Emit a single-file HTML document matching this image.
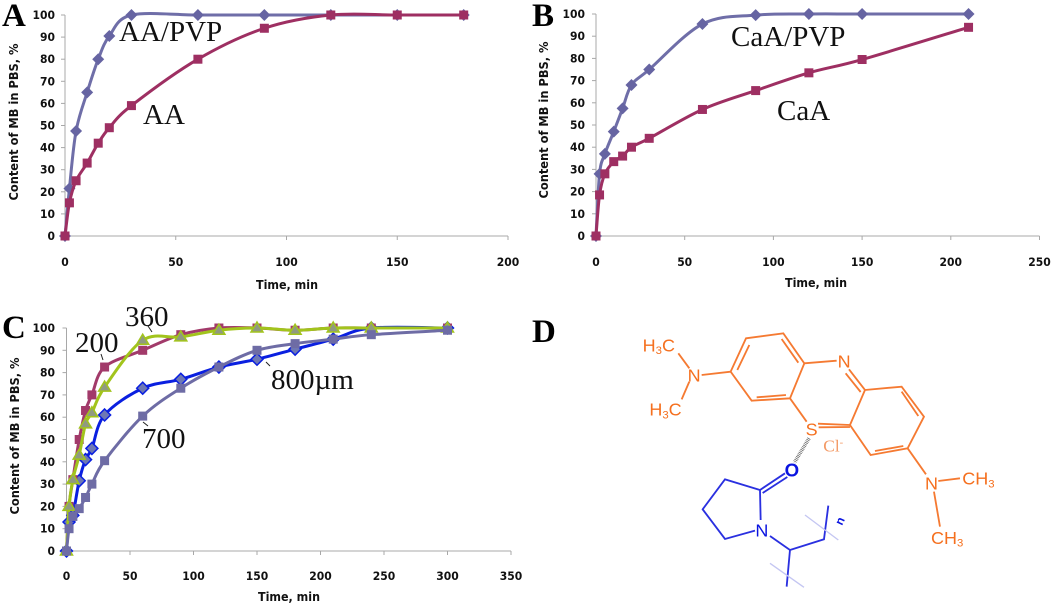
<!DOCTYPE html>
<html lang="en">
<head>
<meta charset="utf-8">
<title>MB release charts</title>
<style>
html,body{margin:0;padding:0;background:#fff;width:1052px;height:607px;overflow:hidden}
svg{display:block}
.tick{font:bold 11.5px "DejaVu Sans",sans-serif;fill:#111}
.title{font:bold 12px "DejaVu Sans",sans-serif;fill:#111}
.note{font:29px "Liberation Serif",serif;fill:#111}
.panel{font:bold 33px "Liberation Serif",serif;fill:#000}
.chem{font-family:"Liberation Sans",sans-serif;font-size:54px}
</style>
</head>
<body>
<svg id="fig" width="1052" height="607" viewBox="0 0 1052 607" xmlns="http://www.w3.org/2000/svg">
  <text class="panel" x="2" y="26">A</text>
  <text class="panel" x="532" y="26">B</text>
  <text class="panel" x="2" y="338">C</text>
  <text class="panel" x="532" y="342">D</text>

  <text class="note" x="119" y="41">AA/PVP</text>
  <text class="note" x="143" y="124">AA</text>
  <text class="note" x="731" y="46">CaA/PVP</text>
  <text class="note" x="777" y="120">CaA</text>
  <text class="note" x="75" y="352">200</text>
  <text class="note" x="125" y="326">360</text>
  <text class="note" x="142" y="448">700</text>
  <text class="note" x="271" y="389">800µm</text>
  <g stroke="#222" stroke-width="1" fill="none">
    <path d="M101 354L103 360M148 326L152 332M143 422L148 426M266 362L270 366"/>
  </g>

  <g id="chem" transform="translate(610 310) scale(.3333)">
    <g fill="none" stroke="#F57A32" stroke-width="5.5">
      <path d="M408 85L520 70L583 160L540 265L425 272L362 185Z"/>
      <path d="M418 105L382 180M515 87L565 158M528 255L440 262"/>
      <path d="M583 160L680 152M717 178L765 240M707 190L752 246"/>
      <path d="M765 240L875 230L942 320L893 415L782 435L720 345L765 240"/>
      <path d="M875 245L925 318M880 408L795 423"/>
      <path d="M540 265L590 335M624 341L720 345M626 352L720 351"/>
      <path d="M893 415L948 493M985 513L1050 505M972 545L990 650"/>
      <path d="M362 185L275 195M238 175L205 130M238 215L215 268"/>
    </g>
    <g fill="#F5701F" class="chem">
      <text x="683" y="172">N</text>
      <text x="587" y="377">S</text>
      <text x="233" y="215">N</text>
      <text x="945" y="538">N</text>
      <text x="98" y="124">H<tspan font-size="34" dy="8">3</tspan><tspan dy="-8">C</tspan></text>
      <text x="118" y="317">H<tspan font-size="34" dy="8">3</tspan><tspan dy="-8">C</tspan></text>
      <text x="1057" y="524">CH<tspan font-size="34" dy="8">3</tspan></text>
      <text x="963" y="702">CH<tspan font-size="34" dy="8">3</tspan></text>
      <text x="640" y="424" style="font:52px 'Liberation Serif',serif" fill="#F39A66">Cl<tspan font-size="32" dy="-18">-</tspan></text>
    </g>
    <line x1="597" y1="385" x2="553" y2="458" stroke="#555" stroke-width="11" stroke-dasharray="2 3"/>
    <g fill="none" stroke="#2A30E0" stroke-width="5.5">
      <path d="M450 540L525 490M458 549L532 501"/>
      <path d="M450 540L345 508L278 598L345 687L435 662M450 540L452 630"/>
      <path d="M480 678L540 720L642 688L655 587M540 720L530 830"/>
    </g>
    <path d="M585 615L685 690M480 760L582 832" fill="none" stroke="#C4C6F2" stroke-width="4"/>
    <g fill="#0A14E0" class="chem">
      <text x="524" y="499" font-weight="bold" font-size="56">O</text>
      <text x="436" y="680">N</text>
      <text transform="translate(696 648) rotate(-65)" font-weight="bold" font-size="36">n</text>
    </g>
  </g>
</svg>
<script>
var yTicks = [0,10,20,30,40,50,60,70,80,90,100];
var xTicksA = [0,50,100,150,200];
var xTicksB = [0,50,100,150,200,250];
var xTicksC = [0,50,100,150,200,250,300,350];

var timeA = [0,2,5,10,15,20,30,60,90,120,150,180];
var aaPvp = [0,21.5,47.5,65,80,90.5,100,100,100,100,100,100];
var aa = [0,15,25,33,42,49,59,80,94,100,100,100];

var timeB = [0,2,5,10,15,20,30,60,90,120,150,210];
var caaPvp = [0,28,37,47,57.5,68,75,95.5,99.5,100,100,100];
var caa = [0,18.5,28,33.5,36,40,44,57,65.5,73.5,79.5,94];

var timeC = [0,2,5,10,15,20,30,60,90,120,150,180,210,240,300];
var size800 = [0,13,16,31.5,41,46,61,73,77,82.5,86,90.5,95,100,100];
var size200 = [0,20,32,50,63,70,82.5,90,97,100,100,99,100,100,100];
var size360 = [0,20,32,43,57,62,73.5,94.5,96,99,100,99,100,100,100];
var size700 = [0,10,15.5,19,24,30,40.5,60.5,73,82.5,90,93,95,97,99];

var NS = 'http://www.w3.org/2000/svg';
var fig = document.getElementById('fig');

function mk(parent, tag, attrs, txt) {
  var el = document.createElementNS(NS, tag);
  for (var k in attrs) el.setAttribute(k, attrs[k]);
  if (txt !== undefined) el.textContent = txt;
  parent.appendChild(el);
  return el;
}

function smoothPath(pts) {
  var d = 'M' + pts[0][0] + ' ' + pts[0][1];
  for (var i = 0; i < pts.length - 1; i++) {
    var p0 = pts[Math.max(i - 1, 0)], p1 = pts[i], p2 = pts[i + 1], p3 = pts[Math.min(i + 2, pts.length - 1)];
    var c1x = p1[0] + (p2[0] - p0[0]) / 6, c1y = p1[1] + (p2[1] - p0[1]) / 6;
    var c2x = p2[0] - (p3[0] - p1[0]) / 6, c2y = p2[1] - (p3[1] - p1[1]) / 6;
    d += 'C' + c1x + ' ' + c1y + ' ' + c2x + ' ' + c2y + ' ' + p2[0] + ' ' + p2[1];
  }
  return d;
}

function drawMarker(g, shape, x, y, fill, stroke) {
  var m;
  if (shape === 'diamond') {
    m = mk(g, 'polygon', {points: x + ',' + (y - 6) + ' ' + (x + 6) + ',' + y + ' ' + x + ',' + (y + 6) + ' ' + (x - 6) + ',' + y, fill: fill, stroke: stroke, 'stroke-width': stroke === 'none' ? 0 : 1.5});
  } else if (shape === 'triangle') {
    m = mk(g, 'polygon', {points: x + ',' + (y - 6) + ' ' + (x + 6) + ',' + (y + 4) + ' ' + (x - 6) + ',' + (y + 4), fill: fill, stroke: stroke, 'stroke-width': 1.5});
  } else {
    m = mk(g, 'rect', {x: x - 4.5, y: y - 4.5, width: 9, height: 9, fill: fill});
  }
  
  
}

function drawChart(name, box, xMax, xTicks, times, seriesList) {
  var sx = function (v) { return box.x0 + (box.x1 - box.x0) * v / xMax; };
  var sy = function (v) { return box.y0 + (box.y100 - box.y0) * v / 100; };

  var g = mk(fig, 'g', {});
  
  

  var axes = mk(g, 'g', {stroke: '#a8a8a8', 'stroke-width': 1, fill: 'none'});
  
  
  mk(axes, 'line', {x1: box.x0, y1: box.y100, x2: box.x0, y2: box.y0});
  mk(axes, 'line', {x1: box.x0, y1: box.y0, x2: box.x1, y2: box.y0});

  yTicks.forEach(function (v) {
    mk(axes, 'line', {x1: box.x0 - 4, y1: sy(v), x2: box.x0, y2: sy(v)});
    var t = mk(g, 'text', {'class': 'tick', x: box.yLabelX, y: sy(v) + 4, 'text-anchor': 'end', textLength: String(v).length * 7.5, lengthAdjust: 'spacingAndGlyphs'}, String(v));
    
    
  });
  xTicks.forEach(function (v) {
    mk(axes, 'line', {x1: sx(v), y1: box.y0, x2: sx(v), y2: box.y0 + 4});
    var t = mk(g, 'text', {'class': 'tick', x: sx(v), y: box.xLabelY, 'text-anchor': 'middle', textLength: String(v).length * 7.5, lengthAdjust: 'spacingAndGlyphs'}, String(v));
    
    
  });

  var yt = mk(g, 'text', {'class': 'title', transform: 'translate(' + box.yTitleX + ' ' + box.yTitleY + ') rotate(-90)', 'text-anchor': 'middle', textLength: 157, lengthAdjust: 'spacingAndGlyphs'}, 'Content of MB in PBS, %');
  
  
  var xt = mk(g, 'text', {'class': 'title', x: box.xTitleX, y: box.xTitleY, 'text-anchor': 'middle', textLength: 62, lengthAdjust: 'spacingAndGlyphs'}, 'Time, min');
  
  

  seriesList.forEach(function (s) {
    var sg = mk(g, 'g', {});
    
    
    var pts = times.map(function (t, i) { return [sx(t), sy(s.values[i])]; });
    var line = mk(sg, 'path', {d: smoothPath(pts), fill: 'none', stroke: s.color, 'stroke-width': 3});
    
    
    pts.forEach(function (p) { drawMarker(sg, s.shape, p[0], p[1], s.fill, s.edge); });
  });
}

drawChart('chart-a', {x0: 65, x1: 508, y0: 236, y100: 15, yLabelX: 55, xLabelY: 266, yTitleX: 18, yTitleY: 122, xTitleX: 287, xTitleY: 289}, 200, xTicksA, timeA, [
  {name: 'series-aa-pvp', values: aaPvp, color: '#6F6EA8', fill: '#6664A2', edge: 'none', shape: 'diamond'},
  {name: 'series-aa', values: aa, color: '#9E2F62', fill: '#9E2F62', edge: 'none', shape: 'square'}
]);
drawChart('chart-b', {x0: 596, x1: 1039.5, y0: 236, y100: 14, yLabelX: 585, xLabelY: 266, yTitleX: 548, yTitleY: 120, xTitleX: 816, xTitleY: 287}, 250, xTicksB, timeB, [
  {name: 'series-caa-pvp', values: caaPvp, color: '#6F6EA8', fill: '#6664A2', edge: 'none', shape: 'diamond'},
  {name: 'series-caa', values: caa, color: '#9E2F62', fill: '#9E2F62', edge: 'none', shape: 'square'}
]);
drawChart('chart-c', {x0: 66.5, x1: 511, y0: 551, y100: 328, yLabelX: 55, xLabelY: 580, yTitleX: 19, yTitleY: 436, xTitleX: 289, xTitleY: 601}, 350, xTicksC, timeC, [
  {name: 'series-800um', values: size800, color: '#0A1FE0', fill: '#6E78B4', edge: '#0A1FE0', shape: 'diamond'},
  {name: 'series-200um', values: size200, color: '#A23A6A', fill: '#A23A6A', edge: 'none', shape: 'square'},
  {name: 'series-360um', values: size360, color: '#A2C41C', fill: '#909A80', edge: '#A2C41C', shape: 'triangle'},
  {name: 'series-700um', values: size700, color: '#6E6CA5', fill: '#6E6CA5', edge: 'none', shape: 'square'}
]);
</script>
</body>
</html>
